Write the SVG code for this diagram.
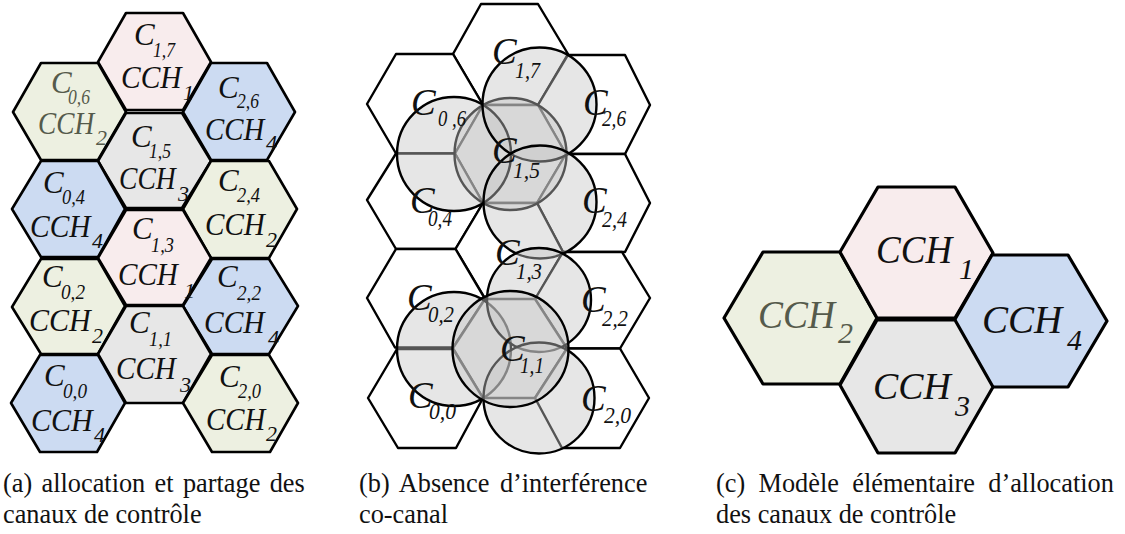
<svg xmlns="http://www.w3.org/2000/svg" width="1125" height="534" viewBox="0 0 1125 534">
<style>
text{font-family:"Liberation Serif","Times New Roman",serif;fill:#111}
.i{font-style:italic}
.a{font-size:31px}
.as{font-size:22px}
.b{font-size:37px}
.bs{font-size:22.5px}
.c{font-size:39px}
.cs{font-size:30px}
.cap{font-size:26.3px}
.dim{fill:#555a4b}
.hx{stroke:#000;stroke-width:2.6;stroke-linejoin:round}
.hb{fill:#fff;stroke:#000;stroke-width:2.4;stroke-linejoin:round}
.hc{stroke:#000;stroke-width:3.2;stroke-linejoin:round}
.pk{fill:#f8eced}.gn{fill:#edf0e1}.bl{fill:#ccdbf2}.gy{fill:#e7e7e7}
.ci{fill:#c6c6c6;fill-opacity:.43;stroke:#000;stroke-width:2.4}
</style>
<rect width="1125" height="534" fill="#fff"/>

<g id="panel-a">
<g id="a-c17"><polygon class="hx pk" points="98,62 126,13 183,13 211,62 183,110 126,110"/></g>
<g id="a-c06"><polygon class="hx gn" points="13,112 41,63 98,63 126,112 98,160 41,160"/></g>
<g id="a-c26"><polygon class="hx bl" points="183,112 211,63 267,63 295,112 267,160 211,160"/></g>
<g id="a-c15"><polygon class="hx gy" points="98,161 126,113 182,113 211,161 182,208 126,208"/></g>
<g id="a-c04"><polygon class="hx bl" points="12,209 41,161 98,161 125,209 98,257 41,257"/></g>
<g id="a-c24"><polygon class="hx gn" points="183,209 211,161 269,161 297,209 269,258 211,258"/></g>
<g id="a-c13"><polygon class="hx pk" points="98,258 126,210 183,210 211,258 183,305 126,305"/></g>
<g id="a-c02"><polygon class="hx gn" points="12,307 41,259 98,259 125,306 98,354 41,354"/></g>
<g id="a-c22"><polygon class="hx bl" points="183,306 212,259 269,259 298,306 269,354 212,354"/></g>
<g id="a-c11"><polygon class="hx gy" points="98,354 126,306 183,306 211,354 183,403 126,403"/></g>
<g id="a-c00"><polygon class="hx bl" points="11,403 40,355 98,355 125,403 97,452 40,452"/></g>
<g id="a-c20"><polygon class="hx gn" points="183,403 212,355 269,355 298,403 270,452 212,452"/></g>
</g>

<g id="panel-a-labels" class="i">
<text class="a" x="134" y="45">C</text><text class="as" x="153" y="57" textLength="22" lengthAdjust="spacingAndGlyphs">1,7</text><text class="a" transform="translate(121 88) scale(.95 1)">CCH</text><text class="as" x="183" y="100">1</text>
<text class="a dim" x="51" y="93">C</text><text class="as dim" x="68" y="104" textLength="22" lengthAdjust="spacingAndGlyphs">0,6</text><text class="a dim" transform="translate(38 134) scale(.88 1)">CCH</text><text class="as dim" x="96" y="145">2</text>
<text class="a" x="218" y="98">C</text><text class="as" x="237" y="108" textLength="22" lengthAdjust="spacingAndGlyphs">2,6</text><text class="a" transform="translate(205 140) scale(.93 1)">CCH</text><text class="as" x="266" y="150">4</text>
<text class="a" x="131" y="147">C</text><text class="as" x="149" y="158" textLength="22" lengthAdjust="spacingAndGlyphs">1,5</text><text class="a" transform="translate(119 189) scale(.89 1)">CCH</text><text class="as" x="178" y="201">3</text>
<text class="a" x="43" y="193">C</text><text class="as" x="62" y="204" textLength="23" lengthAdjust="spacingAndGlyphs">0,4</text><text class="a" transform="translate(30 237) scale(.95 1)">CCH</text><text class="as" x="92" y="248">4</text>
<text class="a" x="218" y="191">C</text><text class="as" x="237" y="202" textLength="23" lengthAdjust="spacingAndGlyphs">2,4</text><text class="a" transform="translate(205 235) scale(.94 1)">CCH</text><text class="as" x="266" y="247">2</text>
<text class="a" x="132" y="239">C</text><text class="as" x="151" y="252" textLength="23" lengthAdjust="spacingAndGlyphs">1,3</text><text class="a" transform="translate(118 285) scale(.94 1)">CCH</text><text class="as" x="184" y="298">1</text>
<text class="a" x="42" y="287">C</text><text class="as" x="61" y="299" textLength="24" lengthAdjust="spacingAndGlyphs">0,2</text><text class="a" transform="translate(29 331) scale(.97 1)">CCH</text><text class="as" x="92" y="343">2</text>
<text class="a" x="217" y="287">C</text><text class="as" x="237" y="300" textLength="24" lengthAdjust="spacingAndGlyphs">2,2</text><text class="a" transform="translate(204 333) scale(.95 1)">CCH</text><text class="as" x="268" y="345">4</text>
<text class="a" x="129" y="333">C</text><text class="as" x="149" y="346" textLength="23" lengthAdjust="spacingAndGlyphs">1,1</text><text class="a" transform="translate(116 379) scale(.94 1)">CCH</text><text class="as" x="180" y="392">3</text>
<text class="a" x="44" y="386">C</text><text class="as" x="63" y="398" textLength="24" lengthAdjust="spacingAndGlyphs">0,0</text><text class="a" transform="translate(31 431) scale(.97 1)">CCH</text><text class="as" x="94" y="442">4</text>
<text class="a" x="219" y="387">C</text><text class="as" x="238" y="398" textLength="23" lengthAdjust="spacingAndGlyphs">2,0</text><text class="a" transform="translate(206 430) scale(.93 1)">CCH</text><text class="as" x="266" y="441">2</text>
</g>

<g id="panel-b">
<g id="b-c17"><polygon class="hb" points="453,54 481,4 538,4 568,54 538,105 483,105"/></g>
<g id="b-c06"><polygon class="hb" points="367,104 396,54 453,54 483,105 455,153.5 396,153.5"/></g>
<g id="b-c26"><polygon class="hb" points="538,105 568,55 625,55 650,105 625,154 566,154"/></g>
<g id="b-c15"><polygon class="hb" points="455,153.5 483,105 538,105 566,154 537,203 483,203"/></g>
<g id="b-c04"><polygon class="hb" points="367,200 396,153.5 455,153.5 483,203 455.5,249 396,249"/></g>
<g id="b-c24"><polygon class="hb" points="537,203 566,154 625,154 650,203 625,252 563,252"/></g>
<g id="b-c13"><polygon class="hb" points="455.5,249 483,203 537,203 563,252 535,300 486,300"/></g>
<g id="b-c02"><polygon class="hb" points="367,298 396,249 455.5,249 485,299 453,347.5 395,347.5"/></g>
<g id="b-c22"><polygon class="hb" points="535,299 563,252 622,252 650,298 620,348.5 567,348.5"/></g>
<g id="b-c11"><polygon class="hb" points="453,348 485,299 535,299 567,348.5 535,398 483,398"/></g>
<g id="b-c00"><polygon class="hb" points="368,398 397,349 453,349 483,398 456,448 398,448"/></g>
<g id="b-c20"><polygon class="hb" points="535,398 567,348.5 620,348.5 649,398 620,448 562,448"/></g>
<g id="b-ranges">
<circle class="ci" cx="510.5" cy="154" r="56"/>
<circle class="ci" cx="454" cy="154" r="57"/>
<circle class="ci" cx="539.5" cy="104.5" r="57"/>
<circle class="ci" cx="540" cy="202" r="56.5"/>
<circle class="ci" cx="454" cy="349" r="57"/>
<circle class="ci" cx="539" cy="300" r="52"/>
<circle class="ci" cx="539" cy="398" r="55.5"/>
<circle class="ci" cx="510.5" cy="349" r="58"/>
</g>
</g>

<g id="panel-b-labels" class="i">
<text class="b" x="492" y="64">C</text><text class="bs" x="515" y="78" textLength="25" lengthAdjust="spacingAndGlyphs">1,7</text>
<text class="b" x="411" y="115">C</text><text class="bs" x="438" y="126" textLength="28" lengthAdjust="spacingAndGlyphs">0 ,6</text>
<text class="b" x="583" y="115">C</text><text class="bs" x="602" y="126" textLength="24" lengthAdjust="spacingAndGlyphs">2,6</text>
<text class="b" x="492" y="163">C</text><text class="bs" x="513" y="178" textLength="27" lengthAdjust="spacingAndGlyphs">1,5</text>
<text class="b" x="410" y="213">C</text><text class="bs" x="428" y="226" textLength="24" lengthAdjust="spacingAndGlyphs">0,4</text>
<text class="b" x="582" y="213">C</text><text class="bs" x="602" y="227" textLength="25" lengthAdjust="spacingAndGlyphs">2,4</text>
<text class="b" x="495" y="265">C</text><text class="bs" x="516" y="279" textLength="26" lengthAdjust="spacingAndGlyphs">1,3</text>
<text class="b" x="407" y="310">C</text><text class="bs" x="428" y="322" textLength="26" lengthAdjust="spacingAndGlyphs">0,2</text>
<text class="b" x="581" y="312">C</text><text class="bs" x="602" y="326" textLength="26" lengthAdjust="spacingAndGlyphs">2,2</text>
<text class="b" x="500" y="361">C</text><text class="bs" x="520" y="373" textLength="24" lengthAdjust="spacingAndGlyphs">1,1</text>
<text class="b" x="408" y="408">C</text><text class="bs" x="429" y="419" textLength="27" lengthAdjust="spacingAndGlyphs">0,0</text>
<text class="b" x="581" y="411">C</text><text class="bs" x="604" y="423" textLength="27" lengthAdjust="spacingAndGlyphs">2,0</text>
</g>

<g id="panel-c">
<g id="c-cch2"><polygon class="hc gn" points="724,318 763,252 840,252 877,318 840,384 763,384"/><text class="c i dim" transform="translate(758 328) scale(.96 1)">CCH</text><text class="cs i dim" x="838" y="343">2</text></g>
<g id="c-cch1"><polygon class="hc pk" points="840,252 878,187 955,187 993,253 955,318 877,318"/><text class="c i" transform="translate(876 263) scale(.95 1)">CCH</text><text class="cs i" x="959" y="279">1</text></g>
<g id="c-cch4"><polygon class="hc bl" points="954,321 992,255 1068,255 1107,321 1068,387 992,387"/><text class="c i" transform="translate(982 333) scale(1 1)">CCH</text><text class="cs i" x="1067" y="350">4</text></g>
<g id="c-cch3"><polygon class="hc gy" points="840,385 877,320 955,320 993,387 955,453 878,453"/><text class="c i" transform="translate(873 399) scale(.97 1)">CCH</text><text class="cs i" x="955" y="416">3</text></g>
</g>

<g id="captions">
<text class="cap" x="3" y="492" word-spacing="2.8">(a) allocation et partage des</text>
<text class="cap" x="3" y="523">canaux de contrôle</text>
<text class="cap" x="359" y="492" word-spacing="4">(b) Absence d’interférence</text>
<text class="cap" x="359" y="523">co-canal</text>
<text class="cap" x="716" y="492" word-spacing="6.8">(c) Modèle élémentaire d’allocation</text>
<text class="cap" x="716" y="523">des canaux de contrôle</text>
</g>
</svg>
